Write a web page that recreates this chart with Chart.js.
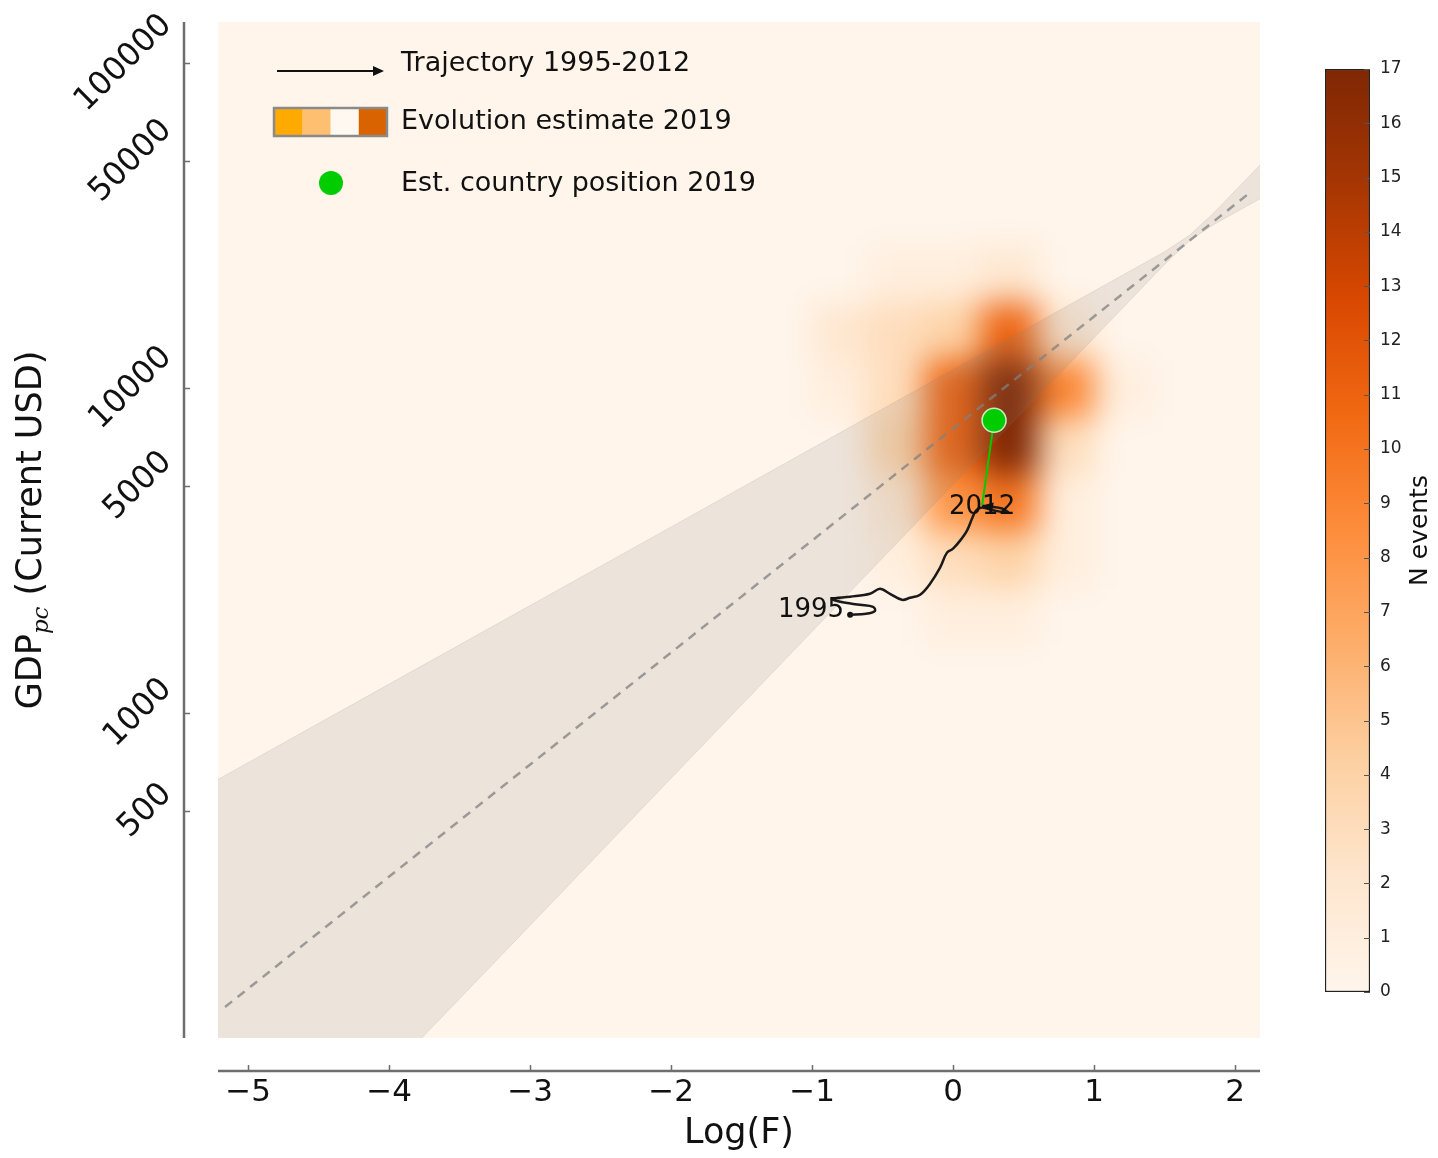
<!DOCTYPE html>
<html>
<head>
<meta charset="utf-8">
<script src="https://cdn.jsdelivr.net/npm/chart.js@4.4.1/dist/chart.umd.min.js"></script>
<style>
  html, body { margin: 0; padding: 0; background: #fff; }
  #wrap { position: relative; width: 1438px; height: 1158px; }
  #main { position: absolute; left: 0; top: 0; }
  #cbar { position: absolute; left: 1300px; top: 40px; }
</style>
</head>
<body>
<div id="wrap">
  <canvas id="main" width="1438" height="1158"></canvas>
  <canvas id="cbar" width="138" height="980"></canvas>
</div>
<script>
// axis ticks
const xTicks = [-5, -4, -3, -2, -1, 0, 1, 2];
const yTicks = [500, 1000, 5000, 10000, 50000, 100000];
const cbTicks = [0, 1, 2, 3, 4, 5, 6, 7, 8, 9, 10, 11, 12, 13, 14, 15, 16, 17];
const countMax = 17;

// confidence band around the fit (edges of the shaded cone)
const bandX = [-5.213, -4, -3, -2, -1, 0, 1, 1.5, 1.681, 1.85, 2.177];
const bandLow = [22.2, 78.6, 222, 630, 1782, 5050, 14290, 24040, 28510, 31920, 38280];
const bandHigh = [625, 1228, 2143, 3740, 6530, 11400, 19900, 26300, 29650, 34670, 48640];

// fitted line (dashed)
const fitX = [-5.163, 2.106];
const fitY = [124.6, 40000];

// country trajectory 1995 -> 2012
const trajX = [-0.730, -0.617, -0.553, -0.567, -0.660, -0.801, -0.858, -0.730, -0.589, -0.518,
               -0.447, -0.362, -0.305, -0.234, -0.163, -0.092, -0.043, 0.000, 0.050, 0.099,
               0.135, 0.163, 0.206, 0.291, 0.390, 0.348, 0.248, 0.206];
const trajY = [2007, 2021, 2064, 2124, 2154, 2201, 2248, 2281, 2329, 2414,
               2329, 2232, 2264, 2313, 2501, 2803, 3118, 3208, 3395, 3646,
               3971, 4203, 4293, 4203, 4143, 4262, 4323, 4354];

// estimated position 2019
const estX = [0.291];
const estY = [7963];

// evolution estimate histogram (rows top -> bottom)
const heatXEdges = [-1.0, -0.6, -0.2, 0.2, 0.6, 1.0, 1.4];
const heatYEdges = [40970, 27380, 18260, 12200, 8166, 5445, 3643, 2440, 1631];
const heatCounts = [
  [0, 0, 0, 0, 0, 0],
  [0, 1, 1, 2, 0, 0],
  [2, 3, 4, 11, 2, 0],
  [1, 3, 11, 17, 9, 1],
  [0, 4, 11, 17, 3, 0],
  [0, 2, 8, 10, 1, 0],
  [0, 1, 3, 4, 1, 0],
  [0, 0, 1, 1, 0, 0]
];

const FONT = '"DejaVu Sans", sans-serif';
const oranges = [[255,245,235],[254,230,206],[253,208,162],[253,174,107],[253,141,60],
                 [241,105,19],[217,72,1],[166,54,3],[127,39,4]];

function orangeAt(t) {
  t = Math.max(0, Math.min(1, t));
  const p = t * 8;
  const i = Math.min(7, Math.floor(p));
  const f = p - i;
  const a = oranges[i], b = oranges[i + 1];
  const c = a.map((v, k) => Math.round(v + (b[k] - v) * f));
  return 'rgb(' + c.join(',') + ')';
}

function pts(xs, ys) {
  return xs.map((v, i) => ({x: v, y: ys[i]}));
}

function fmtMinus(v) {
  return v < 0 ? '\u2212' + Math.abs(v) : String(v);
}

function arrowHead(ctx, fx, fy, tx, ty, len, half, color) {
  const ang = Math.atan2(ty - fy, tx - fx);
  ctx.save();
  ctx.translate(tx, ty);
  ctx.rotate(ang);
  ctx.beginPath();
  ctx.moveTo(0, 0);
  ctx.lineTo(-len, -half);
  ctx.lineTo(-len, half);
  ctx.closePath();
  ctx.fillStyle = color;
  ctx.fill();
  ctx.restore();
}

// blurred 2D histogram under the datasets
const heatmapLayer = {
  id: 'heatmapLayer',
  beforeDatasetsDraw(chart) {
    const {ctx, chartArea: a, scales: {x, y}} = chart;
    const pad = 80;
    const off = document.createElement('canvas');
    off.width = chart.width + 2 * pad;
    off.height = chart.height + 2 * pad;
    const o = off.getContext('2d');
    o.fillStyle = orangeAt(0);
    o.fillRect(0, 0, off.width, off.height);
    heatCounts.forEach((row, r) => row.forEach((n, c) => {
      if (!n) return;
      const x0 = x.getPixelForValue(heatXEdges[c]);
      const x1 = x.getPixelForValue(heatXEdges[c + 1]);
      const y0 = y.getPixelForValue(heatYEdges[r]);
      const y1 = y.getPixelForValue(heatYEdges[r + 1]);
      o.fillStyle = orangeAt(n / countMax);
      o.fillRect(Math.round(x0) + pad, Math.round(y0) + pad, Math.round(x1 - x0) + 1, Math.round(y1 - y0) + 1);
    }));
    ctx.save();
    ctx.beginPath();
    ctx.rect(a.left, a.top, a.width, a.height);
    ctx.clip();
    ctx.fillStyle = orangeAt(0);
    ctx.fillRect(a.left, a.top, a.width, a.height);
    ctx.filter = 'blur(16px)';
    ctx.drawImage(off, -pad, -pad);
    ctx.restore();
  }
};

// offset spines, rotated y labels, y title, annotations and legend
const decorations = {
  id: 'decorations',
  afterDraw(chart) {
    const {ctx, chartArea: a, scales: {x, y}} = chart;
    ctx.save();

    // spines
    ctx.strokeStyle = '#6e6e6e';
    ctx.lineWidth = 2.5;
    ctx.beginPath();
    ctx.moveTo(184, a.top); ctx.lineTo(184, a.bottom);
    ctx.moveTo(a.left, 1071); ctx.lineTo(a.right, 1071);
    ctx.stroke();
    ctx.lineWidth = 1.5;
    ctx.beginPath();
    yTicks.forEach(v => {
      const py = Math.round(y.getPixelForValue(v)) + 0.5;
      ctx.moveTo(184, py); ctx.lineTo(190, py);
    });
    xTicks.forEach(v => {
      const px = Math.round(x.getPixelForValue(v)) + 0.5;
      ctx.moveTo(px, 1071); ctx.lineTo(px, 1065);
    });
    ctx.stroke();

    // y tick labels at 45 degrees, box right-aligned to the spine
    ctx.font = '32px ' + FONT;
    ctx.fillStyle = '#111';
    ctx.textAlign = 'center';
    ctx.textBaseline = 'middle';
    yTicks.forEach(v => {
      const label = String(v);
      const L = ctx.measureText(label).width;
      const H = 23;
      const py = y.getPixelForValue(v);
      const cx = 175 - (L + H) / (2 * Math.SQRT2);
      ctx.save();
      ctx.translate(cx, py);
      ctx.rotate(-Math.PI / 4);
      ctx.fillText(label, 0, 0);
      ctx.restore();
    });

    // y title with subscript
    ctx.save();
    ctx.translate(32, (a.top + a.bottom) / 2);
    ctx.rotate(-Math.PI / 2);
    const mainFont = '35px ' + FONT;
    const subFont = 'italic 23px "DejaVu Serif", serif';
    ctx.font = mainFont;
    const w1 = ctx.measureText('GDP').width;
    const w3 = ctx.measureText(' (Current USD)').width;
    ctx.font = subFont;
    const w2 = ctx.measureText('pc').width;
    let tx = -(w1 + w2 + w3) / 2;
    ctx.textAlign = 'left';
    ctx.fillStyle = '#111';
    ctx.font = mainFont; ctx.fillText('GDP', tx, 0); tx += w1;
    ctx.font = subFont; ctx.fillText('pc', tx, 10); tx += w2;
    ctx.font = mainFont; ctx.fillText(' (Current USD)', tx, 0);
    ctx.restore();

    // trajectory arrow head and year labels
    const n = trajX.length;
    const ex = x.getPixelForValue(trajX[n - 1]), ey = y.getPixelForValue(trajY[n - 1]);
    const px = x.getPixelForValue(trajX[n - 2]), pyy = y.getPixelForValue(trajY[n - 2]);
    arrowHead(ctx, px, pyy, ex, ey, 11, 5, '#111');
    ctx.font = '26px ' + FONT;
    ctx.fillStyle = '#111';
    ctx.textBaseline = 'middle';
    ctx.textAlign = 'right';
    ctx.fillText('1995', x.getPixelForValue(trajX[0]) - 6, y.getPixelForValue(trajY[0]) - 5);
    ctx.textAlign = 'center';
    ctx.fillText('2012', ex, ey + 2);

    // legend
    ctx.strokeStyle = '#111';
    ctx.lineWidth = 2;
    ctx.beginPath();
    ctx.moveTo(277, 71); ctx.lineTo(374, 71);
    ctx.stroke();
    arrowHead(ctx, 277, 71, 384, 71, 11, 5, '#111');

    const swatch = ['#ffaa00', '#fec070', '#fff8f0', '#d96300'];
    const bx = 274, by = 108, bw = 113, bh = 28;
    swatch.forEach((c, i) => {
      ctx.fillStyle = c;
      ctx.fillRect(bx + i * bw / 4, by, bw / 4 + 0.5, bh);
    });
    ctx.strokeStyle = '#8a8a8a';
    ctx.lineWidth = 2.5;
    ctx.strokeRect(bx, by, bw, bh);

    ctx.beginPath();
    ctx.arc(331, 183, 12, 0, Math.PI * 2);
    ctx.fillStyle = '#00cc00';
    ctx.fill();

    ctx.font = '27px ' + FONT;
    ctx.fillStyle = '#111';
    ctx.textAlign = 'left';
    ctx.textBaseline = 'middle';
    ctx.fillText('Trajectory 1995-2012', 401, 64);
    ctx.fillText('Evolution estimate 2019', 401, 122);
    ctx.fillText('Est. country position 2019', 401, 184);
    ctx.restore();
  }
};

const band = 'rgba(128,128,128,0.15)';

new Chart(document.getElementById('main'), {
  type: 'scatter',
  data: {
    datasets: [
      {
        data: pts(bandX, bandLow),
        showLine: true, borderColor: band, borderWidth: 1,
        pointRadius: 0, fill: false, order: 6
      },
      {
        data: pts(bandX, bandHigh),
        showLine: true, borderColor: band, borderWidth: 1,
        pointRadius: 0, fill: '-1', backgroundColor: band, order: 5
      },
      {
        data: pts(fitX, fitY),
        showLine: true, borderColor: 'rgba(128,128,128,0.75)', borderWidth: 2.5,
        borderDash: [9, 7], pointRadius: 0, order: 4
      },
      {
        data: pts(trajX, trajY),
        showLine: true, borderColor: '#1a1a1a', borderWidth: 2.5, tension: 0.35,
        pointRadius: 0, order: 3
      },
      {
        data: pts(trajX.slice(0, 1), trajY.slice(0, 1)),
        pointRadius: 3, pointBackgroundColor: '#111', pointBorderWidth: 0, order: 3
      },
      {
        data: [{x: trajX[trajX.length - 1], y: trajY[trajY.length - 1]}, {x: estX[0], y: estY[0]}],
        showLine: true, borderColor: '#00cc00', borderWidth: 2, pointRadius: 0, order: 2
      },
      {
        data: pts(estX, estY),
        pointRadius: 12, pointBackgroundColor: '#00cc00',
        pointBorderColor: 'rgba(220,245,220,0.9)', pointBorderWidth: 1.5, order: 1
      }
    ]
  },
  options: {
    animation: false,
    responsive: false,
    layout: {padding: {left: 0, top: 22, right: 178, bottom: 0}},
    plugins: {legend: {display: false}, tooltip: {enabled: false}},
    scales: {
      x: {
        type: 'linear', min: -5.213, max: 2.177,
        afterBuildTicks: s => { s.ticks = xTicks.map(v => ({value: v})); },
        afterFit: s => { s.height = 120; },
        grid: {display: false, drawTicks: false},
        border: {display: false},
        ticks: {
          padding: 36, color: '#111',
          font: {family: FONT, size: 31},
          callback: v => fmtMinus(v)
        },
        title: {
          display: true, text: 'Log(F)', color: '#111',
          font: {family: FONT, size: 35},
          padding: {top: 0, bottom: 3}
        }
      },
      y: {
        type: 'logarithmic', min: 100, max: 134000,
        afterBuildTicks: s => { s.ticks = yTicks.map(v => ({value: v})); },
        afterFit: s => { s.width = 218; },
        grid: {display: false, drawTicks: false},
        border: {display: false},
        ticks: {display: false}
      }
    }
  },
  plugins: [heatmapLayer, decorations]
});

// colour bar
const cbarDecor = {
  id: 'cbarDecor',
  afterDraw(chart) {
    const {ctx, chartArea: a, scales: {y}} = chart;
    ctx.save();
    ctx.strokeStyle = '#555';
    ctx.lineWidth = 1.2;
    ctx.beginPath();
    cbTicks.forEach(v => {
      const py = Math.round(y.getPixelForValue(v)) + 0.5;
      ctx.moveTo(a.right, py); ctx.lineTo(a.right - 6, py);
    });
    ctx.stroke();
    ctx.translate(120, (a.top + a.bottom) / 2);
    ctx.rotate(-Math.PI / 2);
    ctx.font = '25px ' + FONT;
    ctx.fillStyle = '#111';
    ctx.textAlign = 'center';
    ctx.textBaseline = 'middle';
    ctx.fillText('N events', 0, 0);
    ctx.restore();
  }
};

new Chart(document.getElementById('cbar'), {
  type: 'bar',
  data: {
    labels: [''],
    datasets: [{
      data: [[0, countMax]],
      backgroundColor: c => {
        const a = c.chart.chartArea;
        if (!a) return orangeAt(0.5);
        const g = c.chart.ctx.createLinearGradient(0, a.bottom, 0, a.top);
        oranges.forEach((_, i) => g.addColorStop(i / 8, orangeAt(i / 8)));
        return g;
      },
      borderColor: '#222',
      borderWidth: 1.5,
      borderSkipped: false,
      barPercentage: 1,
      categoryPercentage: 1
    }]
  },
  options: {
    animation: false,
    responsive: false,
    layout: {padding: {left: 25, top: 29, bottom: 28, right: 0}},
    plugins: {legend: {display: false}, tooltip: {enabled: false}},
    scales: {
      x: {display: false},
      y: {
        position: 'right', min: 0, max: countMax,
        afterBuildTicks: s => { s.ticks = cbTicks.map(v => ({value: v})); },
        afterFit: s => { s.width = 68; },
        grid: {display: false, drawTicks: false},
        border: {display: false},
        ticks: {padding: 10, color: '#222', font: {family: FONT, size: 17}}
      }
    }
  },
  plugins: [cbarDecor]
});
</script>
</body>
</html>
